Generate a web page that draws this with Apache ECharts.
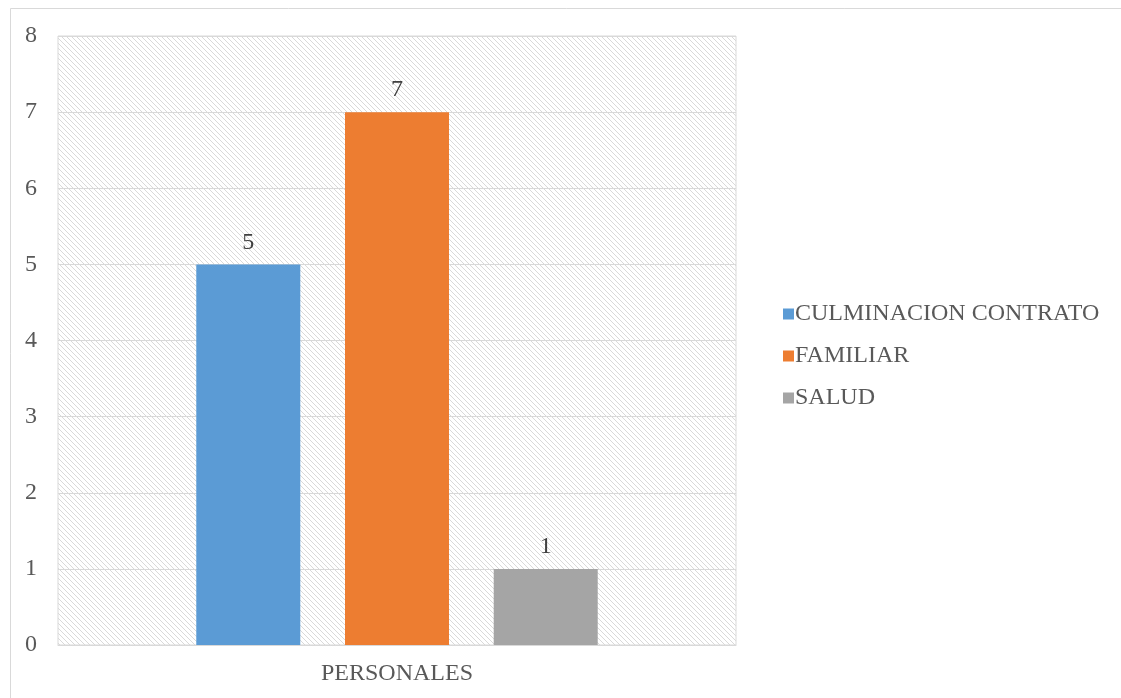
<!DOCTYPE html>
<html>
<head>
<meta charset="utf-8">
<script src="https://cdn.jsdelivr.net/npm/echarts@6/dist/echarts.min.js"></script>
<style>
  html, body { margin: 0; padding: 0; background: #fff; }
  #chart { width: 1121px; height: 698px; }
</style>
</head>
<body>
<div id="chart"></div>
<script>
// Motivos personales de retiro
const categories = ['PERSONALES'];
const seriesNames = ['CULMINACION CONTRATO', 'FAMILIAR', 'SALUD'];
const culminacionContrato = [5];
const familiar = [7];
const salud = [1];
const yTicks = [0, 1, 2, 3, 4, 5, 6, 7, 8];

const colors = ['#5B9BD5', '#ED7D31', '#A5A5A5'];
const seriesValues = [culminacionContrato, familiar, salud];

// Diagonal hatch tile for the plot background
function hatchTile() {
  const size = 5;
  const c = document.createElement('canvas');
  c.width = size; c.height = size;
  const ctx = c.getContext('2d');
  ctx.fillStyle = '#ffffff';
  ctx.fillRect(0, 0, size, size);
  ctx.fillStyle = '#d9d9d9';
  for (let i = 0; i < size; i++) ctx.fillRect(i, i, 1, 1);
  return c;
}

const font = 'Liberation Serif, Times New Roman, serif';
const fontSize = 24;
const chart = echarts.init(document.getElementById('chart'), null, { renderer: 'canvas' });

chart.setOption({
  animation: false,
  backgroundColor: '#ffffff',
  textStyle: { fontFamily: font },
  graphic: [{
    // chart-area frame; its right and bottom edges run past the page
    type: 'rect',
    left: 8, top: 6,
    shape: { width: 1200, height: 800 },
    style: { fill: 'none', stroke: '#d9d9d9', lineWidth: 1 },
    silent: true
  }],
  grid: {
    left: 58, top: 36, right: 385, bottom: 53,
    show: true,
    borderColor: '#d9d9d9',
    borderWidth: 1,
    backgroundColor: { image: hatchTile(), repeat: 'repeat' }
  },
  legend: {
    orient: 'vertical',
    left: 778,
    top: 297,
    itemWidth: 11,
    itemHeight: 11,
    itemGap: 18,
    icon: 'rect',
    textStyle: { fontFamily: font, fontSize: fontSize, color: '#595959', padding: [0, 0, 0, -4] },
    data: seriesNames
  },
  xAxis: {
    type: 'category',
    data: categories,
    axisLine: { lineStyle: { color: '#d9d9d9', width: 1 } },
    axisTick: { show: false },
    axisLabel: { fontFamily: font, fontSize: fontSize, color: '#595959', margin: 17 }
  },
  yAxis: {
    type: 'value',
    min: yTicks[0],
    max: yTicks[yTicks.length - 1],
    interval: 1,
    axisLine: { show: false },
    axisTick: { show: false },
    splitLine: { lineStyle: { color: '#d9d9d9', width: 1 } },
    axisLabel: { fontFamily: font, fontSize: fontSize, color: '#595959', margin: 21 }
  },
  series: seriesNames.map((name, i) => ({
    name,
    type: 'bar',
    data: seriesValues[i],
    barWidth: 104,
    barGap: '43%',
    itemStyle: { color: colors[i] },
    label: {
      show: true,
      position: 'top',
      distance: 10,
      fontFamily: font,
      fontSize: fontSize,
      color: '#404040'
    }
  }))
});
</script>
</body>
</html>
